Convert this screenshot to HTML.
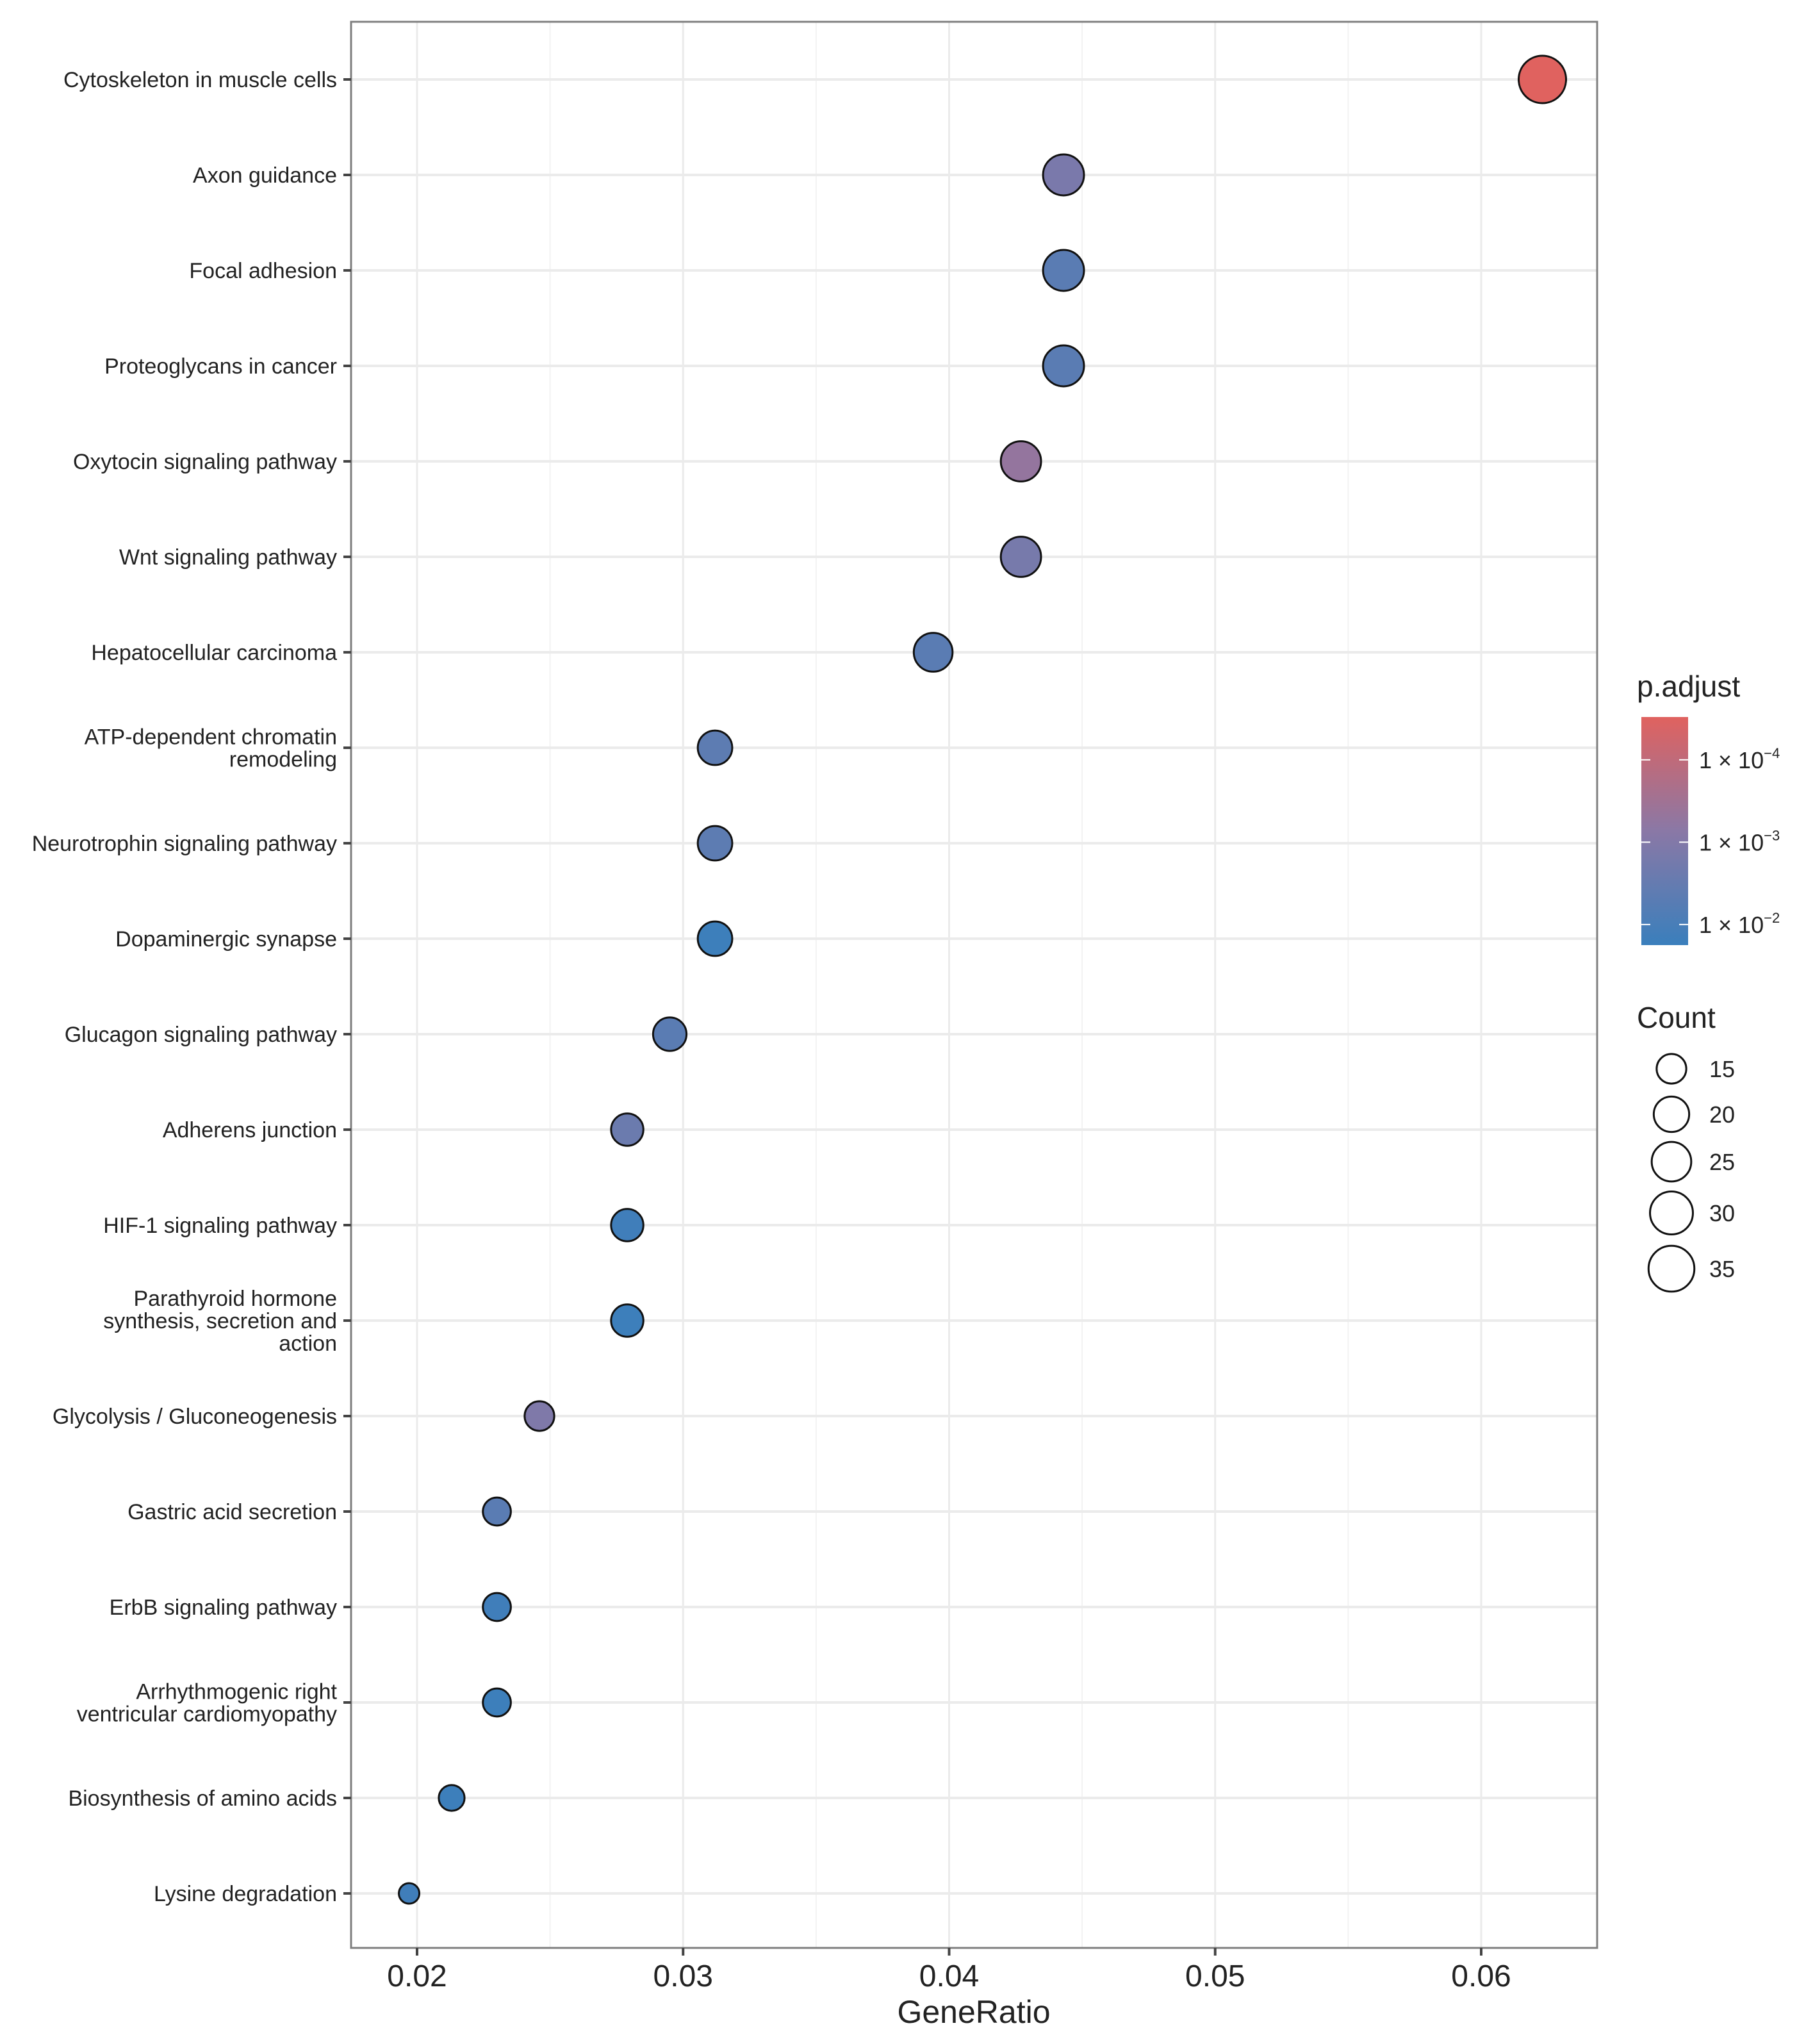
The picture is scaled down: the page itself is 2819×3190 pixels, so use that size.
<!DOCTYPE html>
<html><head><meta charset="utf-8"><style>
html,body{margin:0;padding:0;background:#fff;}
svg{display:block;font-family:"Liberation Sans",sans-serif;}
</style></head><body>
<svg id="chart" width="2819" height="3190" viewBox="0 0 2819 3190" xmlns="http://www.w3.org/2000/svg">
<defs><linearGradient id="cbar" x1="0" y1="1" x2="0" y2="0">
<stop offset="0" stop-color="#3a7fbc"/><stop offset="0.5" stop-color="#8a78a6"/><stop offset="1" stop-color="#e0625f"/></linearGradient></defs>
<rect x="548" y="34" width="1945" height="3006" fill="#fff"/>
<g id="grid"></g>
<g id="dots"></g>
<rect x="548" y="34" width="1945" height="3006" fill="none" stroke="#7f7f7f" stroke-width="3"/>
<g id="yaxis"></g>
<g id="xaxis"></g>
<text x="1520" y="3157" font-size="50" text-anchor="middle" fill="#222">GeneRatio</text>
<g>
<text x="2555" y="1087" font-size="46" fill="#222">p.adjust</text>
<rect x="2562" y="1119" width="73" height="356" fill="url(#cbar)"/>
<g id="cbticks"></g>
</g>
<g>
<text x="2555" y="1604" font-size="46" fill="#222">Count</text>
<g id="sizeleg"></g>
</g>
</svg>
<script>
const categories = ["Cytoskeleton in muscle cells","Axon guidance","Focal adhesion","Proteoglycans in cancer","Oxytocin signaling pathway","Wnt signaling pathway","Hepatocellular carcinoma","ATP-dependent chromatin|remodeling","Neurotrophin signaling pathway","Dopaminergic synapse","Glucagon signaling pathway","Adherens junction","HIF-1 signaling pathway","Parathyroid hormone|synthesis, secretion and|action","Glycolysis / Gluconeogenesis","Gastric acid secretion","ErbB signaling pathway","Arrhythmogenic right|ventricular cardiomyopathy","Biosynthesis of amino acids","Lysine degradation"];
const geneRatio = [0.0623,0.0443,0.0443,0.0443,0.0427,0.0427,0.0394,0.0312,0.0312,0.0312,0.0295,0.0279,0.0279,0.0279,0.0246,0.0230,0.0230,0.0230,0.0213,0.0197];
const counts = [38,27,27,27,26,26,24,19,19,19,18,17,17,17,15,14,14,14,13,12];
const log10p = [-4.52,-2.85,-2.3,-2.3,-3.3,-2.8,-2.3,-2.35,-2.35,-1.8,-2.3,-2.6,-1.85,-1.8,-2.95,-2.3,-1.85,-1.8,-1.8,-1.85];
const xTicks = [0.02,0.03,0.04,0.05,0.06];
const xMinorTicks = [0.025,0.035,0.045,0.055];
const sizeBreaks = [15,20,25,30,35];
const colorBreaks = [-4,-3,-2];
const colorBreakLabels = ["\u22124","\u22123","\u22122"];

const NS="http://www.w3.org/2000/svg";
function mk(tag,attrs,parent){const e=document.createElementNS(NS,tag);for(const k in attrs)e.setAttribute(k,attrs[k]);parent.appendChild(e);return e;}
const xS=v=>651+(v-0.02)*(2312-651)/0.04;
const yS=i=>124+i*(2955-124)/19;
const cMin=Math.min(...counts),cMax=Math.max(...counts);
const rS=c=>16+21*Math.sqrt(Math.max(0,(c-cMin))/(cMax-cMin));
const pTop=-4.52,pBot=-1.75;
const cbY=l=>1119+(l-pTop)/(pBot-pTop)*356;
function col(l){const t=Math.min(1,Math.max(0,(l-pBot)/(pTop-pBot)));
 const stops=[[58,127,188],[138,120,166],[224,98,95]];let a,b,u;
 if(t<0.5){a=stops[0];b=stops[1];u=t/0.5;}else{a=stops[1];b=stops[2];u=(t-0.5)/0.5;}
 return `rgb(${a.map((v,i)=>Math.round(v+(b[i]-v)*u)).join(',')})`;}

const grid=document.getElementById('grid');
xMinorTicks.forEach(v=>{const l=mk('line',{x1:xS(v),x2:xS(v),y1:34,y2:3040,stroke:'#f2f2f2','stroke-width':2},grid);

});
xTicks.forEach(v=>{const l=mk('line',{x1:xS(v),x2:xS(v),y1:34,y2:3040,stroke:'#ebebeb','stroke-width':3},grid);

});
categories.forEach((c,i)=>{const l=mk('line',{x1:548,x2:2493,y1:yS(i),y2:yS(i),stroke:'#ebebeb','stroke-width':4},grid);

});

const ya=document.getElementById('yaxis');
categories.forEach((c,i)=>{const y=yS(i);
 const tk=mk('line',{x1:536,x2:548,y1:y,y2:y,stroke:'#444','stroke-width':4},ya);
 
 
 const lines=c.split('|');const lh=35;
 lines.forEach((s,j)=>{const t=mk('text',{x:526,y:y+12+(j-(lines.length-1)/2)*lh,'font-size':34,'text-anchor':'end',fill:'#222'},ya);
  t.textContent=s;
  
  });
});
const xa=document.getElementById('xaxis');
xTicks.forEach(v=>{const tk=mk('line',{x1:xS(v),x2:xS(v),y1:3040,y2:3052,stroke:'#444','stroke-width':4},xa);
 
 
 const t=mk('text',{x:xS(v),y:3100,'font-size':48,'text-anchor':'middle',fill:'#222'},xa);
 t.textContent=String(v);
 
 });

const dots=document.getElementById('dots');
categories.forEach((c,i)=>{const d=mk('circle',{cx:xS(geneRatio[i]),cy:yS(i),r:rS(counts[i]),fill:col(log10p[i]),stroke:'#111','stroke-width':3},dots);
 
 });

const cbt=document.getElementById('cbticks');
colorBreaks.forEach((l,i)=>{const y=cbY(l);
 mk('line',{x1:2562,x2:2576,y1:y,y2:y,stroke:'#fff','stroke-width':2},cbt);
 mk('line',{x1:2621,x2:2635,y1:y,y2:y,stroke:'#fff','stroke-width':2},cbt);
 const t=mk('text',{x:2652,y:y+13,'font-size':36,fill:'#222'},cbt);
 t.textContent='1 \u00d7 10';
 const s=mk('tspan',{'font-size':22,dy:-16},t);s.textContent=colorBreakLabels[i];
 
 });

const sl=document.getElementById('sizeleg');
const sy=[1668,1739,1813,1893,1980];
sizeBreaks.forEach((b,i)=>{const c=mk('circle',{cx:2609,cy:sy[i],r:rS(b),fill:'none',stroke:'#111','stroke-width':3},sl);
 
 
 const t=mk('text',{x:2668,y:sy[i]+13,'font-size':36,fill:'#222'},sl);
 t.textContent=String(b);
 
 });
</script>
</body></html>
